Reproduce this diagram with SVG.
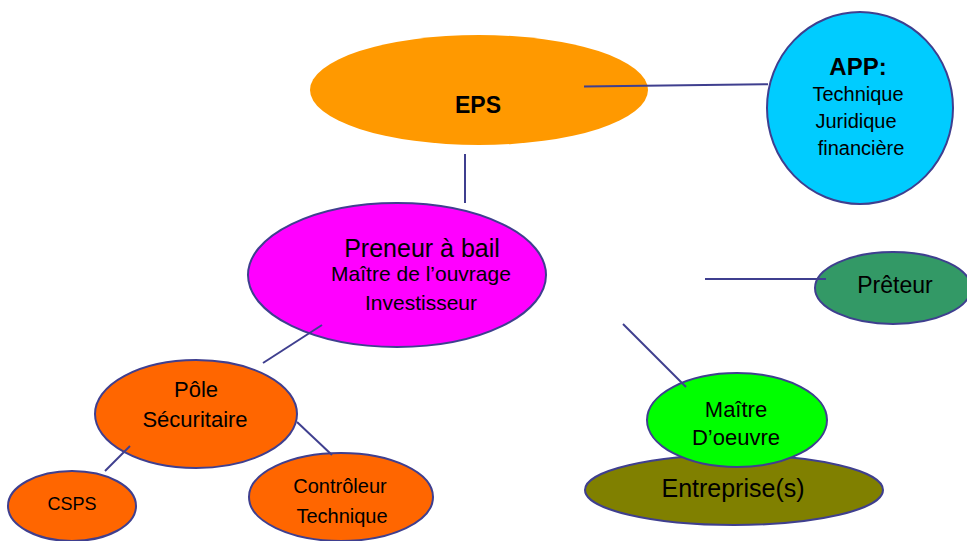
<svg xmlns="http://www.w3.org/2000/svg" width="967" height="541" viewBox="0 0 967 541">
  <style>
    .edge { stroke: #3f3f8f; stroke-width: 2; fill: none; }
    .node { stroke: #3f3f8f; stroke-width: 2; }
    text { font-family: "Liberation Sans", Arial, sans-serif; fill: #000; text-anchor: middle; }
    .b { font-weight: bold; }
  </style>
  <rect width="967" height="541" fill="#ffffff"/>

  <g id="eps">
    <ellipse cx="479" cy="90" rx="169" ry="55" fill="#ff9900"/>
    <text class="b" x="478" y="113" font-size="23">EPS</text>
  </g>

  <g id="app">
    <ellipse class="node" cx="860" cy="108" rx="93" ry="96" fill="#00ccff"/>
    <text class="b" x="858" y="75" font-size="24">APP:</text>
    <text x="858" y="101" font-size="20">Technique</text>
    <text x="856" y="128" font-size="20">Juridique</text>
    <text x="861" y="155" font-size="20">financière</text>
  </g>

  <g id="preneur">
    <ellipse class="node" cx="397" cy="275" rx="149" ry="72" fill="#ff00ff"/>
    <text x="422" y="257" font-size="25">Preneur à bail</text>
    <text x="421" y="281" font-size="21">Maître de l’ouvrage</text>
    <text x="421" y="310" font-size="21">Investisseur</text>
  </g>

  <g id="preteur">
    <ellipse class="node" cx="893" cy="288" rx="78" ry="36" fill="#339966"/>
    <text x="895" y="293" font-size="23">Prêteur</text>
  </g>

  <g id="pole">
    <ellipse class="node" cx="196" cy="414" rx="101" ry="54" fill="#ff6600"/>
    <text x="196" y="397" font-size="22">Pôle</text>
    <text x="195" y="427" font-size="22">Sécuritaire</text>
  </g>

  <g id="csps">
    <ellipse class="node" cx="72" cy="506" rx="64" ry="35" fill="#ff6600"/>
    <text x="72" y="510" font-size="18">CSPS</text>
  </g>

  <g id="controleur">
    <ellipse class="node" cx="341" cy="497" rx="92" ry="44" fill="#ff6600"/>
    <text x="340" y="493" font-size="20">Contrôleur</text>
    <text x="342" y="523" font-size="20">Technique</text>
  </g>

  <g id="entreprise">
    <ellipse class="node" cx="734" cy="490" rx="149" ry="35" fill="#808000"/>
    <text x="733" y="497" font-size="25">Entreprise(s)</text>
  </g>

  <g id="maitre-oeuvre">
    <ellipse class="node" cx="737" cy="420" rx="90" ry="47" fill="#00ff00"/>
    <text x="736" y="417" font-size="22">Maître</text>
    <text x="736" y="445" font-size="22">D’oeuvre</text>
  </g>

  <!-- connectors, drawn over the node shapes -->
  <g id="connectors">
    <line class="edge" x1="584" y1="86.5" x2="768" y2="84.3"/>
    <line class="edge" x1="465" y1="154" x2="465" y2="203"/>
    <line class="edge" x1="322" y1="325" x2="263" y2="363"/>
    <line class="edge" x1="130" y1="446" x2="105" y2="471"/>
    <line class="edge" x1="297" y1="422" x2="332" y2="455"/>
    <line class="edge" x1="705" y1="279" x2="826" y2="279"/>
    <line class="edge" x1="623" y1="324" x2="686" y2="387"/>
  </g>
</svg>
